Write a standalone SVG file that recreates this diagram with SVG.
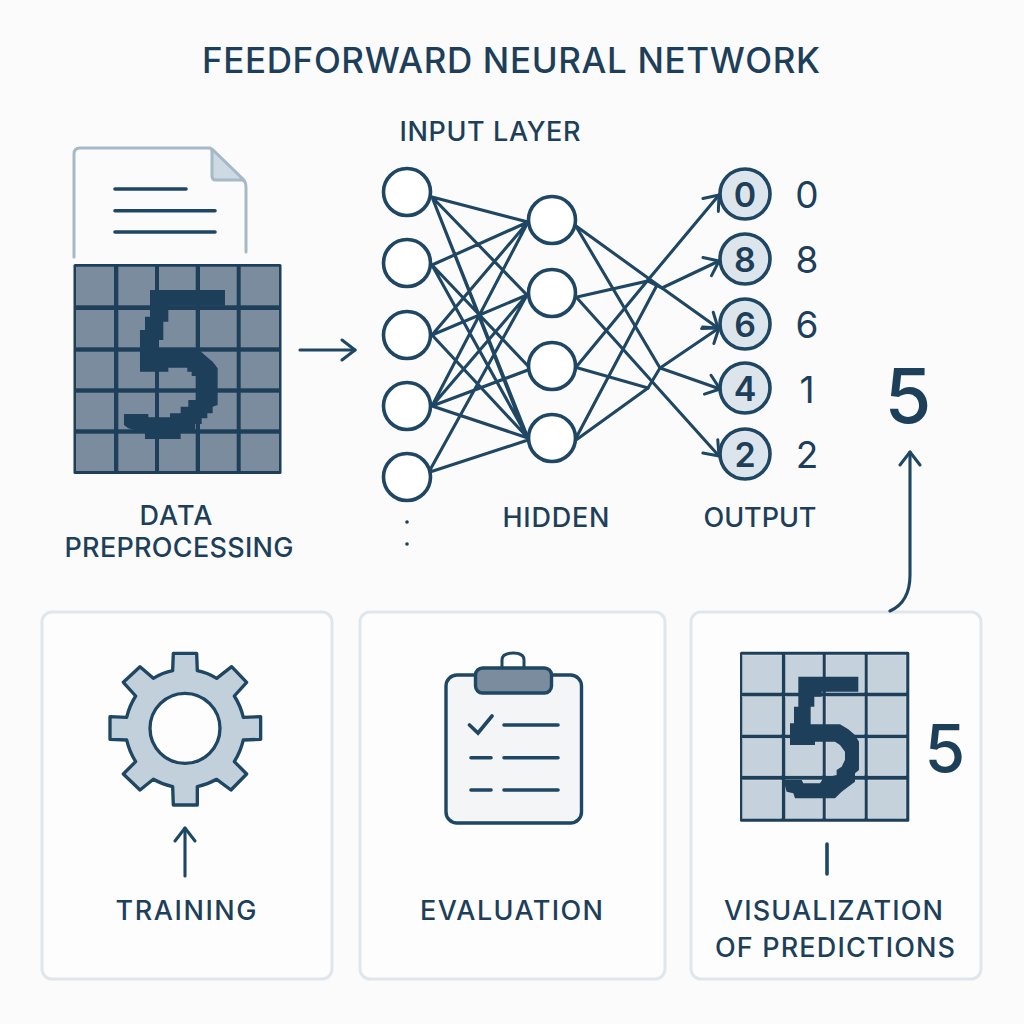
<svg xmlns="http://www.w3.org/2000/svg" width="1024" height="1024" viewBox="0 0 1024 1024">
<defs>
<marker id="head" viewBox="0 0 30 30" refX="28" refY="15" markerWidth="30" markerHeight="30" markerUnits="userSpaceOnUse" orient="auto"><path d="M15 5L28 15L15 25" fill="none" stroke="#1f4763" stroke-width="3" stroke-linecap="round" stroke-linejoin="round"/></marker>
</defs>
<style>
text{font-family:"Inter","Noto Sans","Liberation Sans",sans-serif;fill:#1d3f5a;font-weight:500;text-anchor:middle}
.panel{fill:#fdfdfd;stroke:#dfe7ec;stroke-width:3}
.n{fill:#fff;stroke:#1f4763;stroke-width:3.6}
.o{fill:#dde5ec;stroke:#1f4763;stroke-width:3.6}
.e{fill:none;stroke:#1f4763;stroke-width:3.100;stroke-linecap:round}
.l{fill:none;stroke:#1f4763;stroke-width:3.6;stroke-linecap:round}
.lab{font-size:27px}
.in{font-size:34px;font-weight:600}
.side{font-size:37px;font-weight:400}
.c1{fill:#7a8c9d}
.c2{fill:#c5d2dc;stroke:#e4eaef;stroke-width:1.500}
.dk{fill:#1d3f5a}
</style>
<rect width="1024" height="1024" fill="#fbfbfb"/>
<text id="title" x="511" y="73" font-size="35" textLength="618" lengthAdjust="spacing">FEEDFORWARD NEURAL NETWORK</text>

<g id="data-preprocessing">
<path d="M74 257V154Q74 148 80 148H210L245 182Q246 184 246 188V252" fill="none" stroke="#a5b9c7" stroke-width="3" stroke-linecap="round"/>
<path d="M212 149V176Q212 180 216 180H244Z" fill="#cdd9e3" stroke="#a5b9c7" stroke-width="3" stroke-linejoin="round"/>
<path class="l" d="M115 189H186M115 210.700H215M115 232H215"/>
<rect class="dk" x="73.500" y="264" width="208" height="210" rx="1.500"/>
<g class="c1">
<rect x="76" y="266.700" width="38" height="38.600"/><rect x="118.300" y="266.700" width="36.700" height="38.600"/><rect x="159" y="266.700" width="36.700" height="38.600"/><rect x="200" y="266.700" width="36.700" height="38.600"/><rect x="240.700" y="266.700" width="38.300" height="38.600"/>
<rect x="76" y="310" width="38" height="37.300"/><rect x="118.300" y="310" width="36.700" height="37.300"/><rect x="159" y="310" width="36.700" height="37.300"/><rect x="200" y="310" width="36.700" height="37.300"/><rect x="240.700" y="310" width="38.300" height="37.300"/>
<rect x="76" y="351.700" width="38" height="36.600"/><rect x="118.300" y="351.700" width="36.700" height="36.600"/><rect x="159" y="351.700" width="36.700" height="36.600"/><rect x="200" y="351.700" width="36.700" height="36.600"/><rect x="240.700" y="351.700" width="38.300" height="36.600"/>
<rect x="76" y="392.700" width="38" height="36.600"/><rect x="118.300" y="392.700" width="36.700" height="36.600"/><rect x="159" y="392.700" width="36.700" height="36.600"/><rect x="200" y="392.700" width="36.700" height="36.600"/><rect x="240.700" y="392.700" width="38.300" height="36.600"/>
<rect x="76" y="433.700" width="38" height="37.300"/><rect x="118.300" y="433.700" width="36.700" height="37.300"/><rect x="159" y="433.700" width="36.700" height="37.300"/><rect x="200" y="433.700" width="36.700" height="37.300"/><rect x="240.700" y="433.700" width="38.300" height="37.300"/>
</g>
<polygon class="dk" transform="translate(60 140) scale(.3333)" points="270,450 495,450 495,497 325,497 325,545 310,545 310,600 297,600 297,632 420,632 440,650 458,665 473,685 473,795 458,800 458,820 442,820 442,835 425,835 425,852 405,852 405,870 362,870 362,897 255,897 255,880 205,865 192,855 192,822 265,822 265,832 330,832 330,820 362,820 362,800 385,800 385,780 408,780 408,708 395,708 395,695 382,695 382,683 325,683 325,695 240,695 240,570 255,570 255,530 270,530"/>
<text class="lab" x="176" y="525" textLength="73" lengthAdjust="spacing">DATA</text>
<text class="lab" x="179" y="557" textLength="229" lengthAdjust="spacing">PREPROCESSING</text>
</g>

<g id="input-layer">
<text class="lab" x="490" y="141" textLength="181" lengthAdjust="spacing">INPUT LAYER</text>
<circle class="n" cx="407" cy="192" r="23.500"/><circle class="n" cx="407" cy="263" r="23.500"/><circle class="n" cx="407" cy="335" r="23.500"/><circle class="n" cx="407" cy="406" r="23.500"/><circle class="n" cx="407" cy="477" r="23.500"/>
<circle class="dk" cx="407" cy="522" r="1.800"/><circle class="dk" cx="407" cy="544" r="1.800"/>
</g>
<g id="hidden-layer">
<circle class="n" cx="552" cy="220" r="23.500"/><circle class="n" cx="552" cy="293" r="23.500"/><circle class="n" cx="552" cy="366" r="23.500"/><circle class="n" cx="552" cy="438" r="23.500"/>
<text class="lab" x="556" y="527" textLength="107" lengthAdjust="spacing">HIDDEN</text>
</g>
<g id="output-layer">
<circle class="o" cx="745" cy="194" r="25"/><circle class="o" cx="745" cy="259" r="25"/><circle class="o" cx="745" cy="324" r="25"/><circle class="o" cx="745" cy="388" r="25"/><circle class="o" cx="745" cy="454" r="25"/>
<text class="in" x="745" y="206.500">0</text><text class="in" x="745" y="271.500">8</text><text class="in" x="745" y="336.500">6</text><text class="in" x="745" y="400.500">4</text><text class="in" x="745" y="466.500">2</text>
<text class="side" x="807" y="208">0</text><text class="side" x="807" y="273">8</text><text class="side" x="807" y="338">6</text><text class="side" x="807" y="403">1</text><text class="side" x="807" y="468">2</text>
<text class="lab" x="760" y="527" textLength="113" lengthAdjust="spacing">OUTPUT</text>
</g>
<text id="result" x="908" y="423" font-size="76" font-weight="500">5</text>

<g id="training">
<rect class="panel" x="42" y="612" width="290" height="367" rx="10"/>
<g transform="translate(90 640) scale(.3333)">
<path fill="#c2d0db" stroke="#1f4763" stroke-width="10" stroke-linejoin="round" d="M250 40H320L322 92Q352 98 380 115L425 80L470 127L433 168Q452 198 460 232L512 230V298L460 300Q452 335 433 365L470 402L423 450L380 418Q352 434 322 440V495H250L248 440Q218 434 190 418L150 450L100 402L137 365Q118 335 110 300L60 298V230L110 232Q118 198 137 168L100 127L150 80L190 115Q218 98 248 92Z"/>
<circle cx="285" cy="265" r="105" fill="#fdfdfd" stroke="#1f4763" stroke-width="10"/>
</g>
<text class="lab" x="186" y="920" textLength="141" lengthAdjust="spacing">TRAINING</text>
</g>

<g id="evaluation">
<rect class="panel" x="360" y="612" width="305" height="367" rx="10"/>
<rect x="446" y="675" width="135.500" height="148" rx="11" fill="#f3f5f6" stroke="#1f4763" stroke-width="3.400"/>
<path d="M502 668V660Q502 653 513 653Q524 653 524 660V668" fill="none" stroke="#1f4763" stroke-width="3"/>
<rect x="475.500" y="668" width="76" height="25" rx="7" fill="#7a8c9d" stroke="#1f4763" stroke-width="3.400"/>
<path class="l" d="M469.500 725L478 733L492 716M504 725H558M471 757.700H491M504 757.700H558M471 790H491M504 790H558"/>
<text class="lab" x="511.500" y="920" textLength="183" lengthAdjust="spacing">EVALUATION</text>
</g>

<g id="visualization">
<rect class="panel" x="691" y="612" width="290" height="367" rx="10"/>
<rect class="dk" x="740" y="651.700" width="169.300" height="170" rx="1.500"/>
<g class="c2" transform="translate(720 600) scale(.3333)">
<rect x="68" y="165" width="117" height="112"/><rect x="197" y="165" width="110" height="112"/><rect x="318" y="165" width="115" height="112"/><rect x="444" y="165" width="114" height="112"/>
<rect x="68" y="290" width="117" height="113"/><rect x="197" y="290" width="110" height="113"/><rect x="318" y="290" width="115" height="113"/><rect x="444" y="290" width="114" height="113"/>
<rect x="68" y="415" width="117" height="112"/><rect x="197" y="415" width="110" height="112"/><rect x="318" y="415" width="115" height="112"/><rect x="444" y="415" width="114" height="112"/>
<rect x="68" y="540" width="117" height="115"/><rect x="197" y="540" width="110" height="115"/><rect x="318" y="540" width="115" height="115"/><rect x="444" y="540" width="114" height="115"/>
</g>
<polygon class="dk" transform="translate(720 600) scale(.3333)" points="235,230 415,230 415,275 305,275 305,290 283,290 283,320 272,320 272,373 360,373 385,388 405,405 417,425 417,510 405,520 405,545 385,560 365,575 345,595 225,595 220,580 200,575 190,540 245,540 250,550 300,550 310,535 350,525 350,510 365,500 375,480 375,455 360,435 345,425 285,425 285,435 210,435 210,370 222,370 222,320 235,320"/>
<text x="945" y="772" font-size="66" font-weight="400">5</text>
<path class="l" d="M827 844V874"/>
<text class="lab" x="833.500" y="920" textLength="219" lengthAdjust="spacing">VISUALIZATION</text>
<text class="lab" x="835" y="957" textLength="240" lengthAdjust="spacing">OF PREDICTIONS</text>
</g>

<g id="connectors">
<path class="e" d="M300 350H355" marker-end="url(#head)"/>
<path class="e" d="M432 197L528 222M432 197L527 295M432 197L528 438M432 197L526 436M432 265L528 222M432 265L528 366M432 265L528 438M432 335L528 222M432 335L527 295M432 335L528 438M432 406L528 222M432 406L527 295M432 406L528 370M432 406L528 438M430 470L527 295M430 472L528 440"/>
<path class="e" d="M576 226L648 278L718 328" marker-end="url(#head)"/>
<path class="e" d="M577 228L660 368L720 389" marker-end="url(#head)"/>
<path class="e" d="M577 297L648 281L662 288L719 261" marker-end="url(#head)"/>
<path class="e" d="M577 298L719 456" marker-end="url(#head)"/>
<path class="e" d="M577 366L648 280L719 195" marker-end="url(#head)"/>
<path class="e" d="M578 368L648 388L660 368L719 328" marker-end="url(#head)"/>
<path class="e" d="M576 438L656 287"/>
<path class="e" d="M576 440L648 388"/>
<path class="e" d="M185 876V828" marker-end="url(#head)"/>
<path class="e" d="M890 611Q910 602 910 575V452" marker-end="url(#head)"/>
</g>
</svg>
